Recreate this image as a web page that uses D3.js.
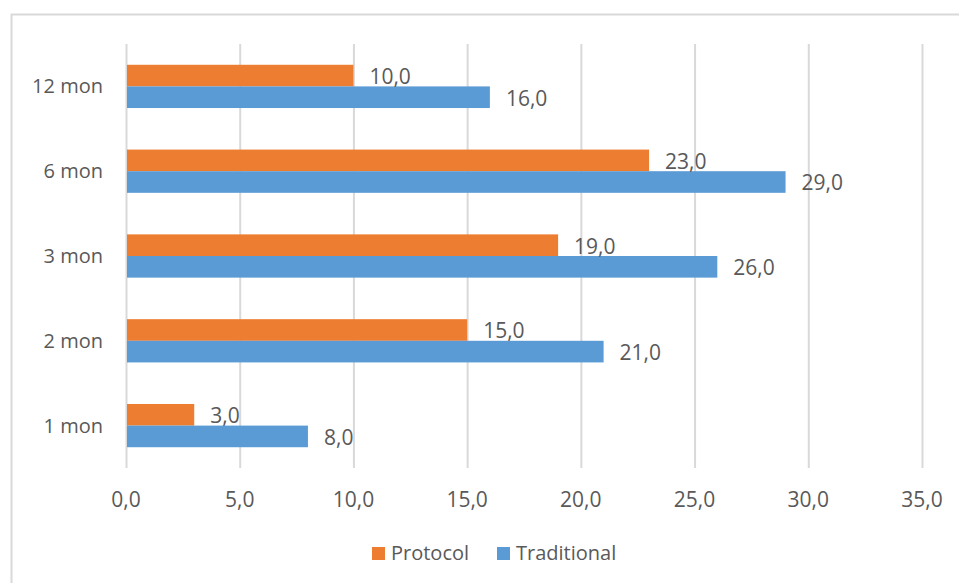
<!DOCTYPE html>
<html>
<head>
<meta charset="utf-8">
<script src="https://cdn.jsdelivr.net/npm/d3@7"></script>
<style>
  body { margin: 0; background: #fff; }
  svg text { font-family: "Open Sans", sans-serif; fill: #595959; }
</style>
</head>
<body>
<div id="chart"></div>
<script>
// chart data
const categories = ["12 mon", "6 mon", "3 mon", "2 mon", "1 mon"];
const seriesNames = ["Protocol", "Traditional"];
const protocol = [10, 23, 19, 15, 3];
const traditional = [16, 29, 26, 21, 8];
const xTicks = [0, 5, 10, 15, 20, 25, 30, 35];
const colors = ["#ED7D31", "#5B9BD5"];

const W = 959, H = 583;
const margin = {top: 44, right: 37, bottom: 115, left: 126},
  width = W - margin.left - margin.right,
  height = H - margin.top - margin.bottom;

const svg = d3.select("#chart")
  .append("svg")
  .attr("width", W)
  .attr("height", H);

// chart border (right/bottom run off the picture)
svg.append("rect")
  .attr("x", 11.5).attr("y", 14.5)
  .attr("width", W + 20).attr("height", H + 20)
  .attr("fill", "none")
  .attr("stroke", "#d9d9d9")
  .attr("stroke-width", 2);

const g = svg.append("g")
  .attr("transform", "translate(" + margin.left + "," + margin.top + ")");

const x = d3.scaleLinear()
  .domain([0, 35])
  .range([0, width]);

const y = d3.scaleBand()
  .domain(categories)
  .range([0, height])
  .paddingInner(0.49)
  .paddingOuter(0.245);

const ySub = d3.scaleBand()
  .domain(seriesNames)
  .range([0, y.bandwidth()]);

// vertical gridlines
g.append("g")
  .selectAll("line")
  .data(xTicks)
  .enter().append("line")
  .attr("x1", d => x(d) + 0.5).attr("x2", d => x(d) + 0.5)
  .attr("y1", 0).attr("y2", height)
  .attr("stroke", "#d9d9d9")
  .attr("stroke-width", 2);

// x tick labels
const fmt = d => d.toFixed(1).replace(".", ",");
g.append("g")
  .selectAll("text")
  .data(xTicks)
  .enter().append("text")
  .attr("x", d => x(d))
  .attr("y", height + 39)
  .attr("text-anchor", "middle")
  .attr("font-size", 21)
  .text(fmt);

// category labels
g.append("g")
  .selectAll("text")
  .data(categories)
  .enter().append("text")
  .attr("x", -23)
  .attr("y", d => y(d) + y.bandwidth() / 2)
  .attr("dy", "0.35em")
  .attr("text-anchor", "end")
  .attr("font-size", 20)
  .text(d => d);

// bars
const rows = [];
categories.forEach((c, i) => {
  rows.push({cat: c, s: seriesNames[0], v: protocol[i], color: colors[0]});
  rows.push({cat: c, s: seriesNames[1], v: traditional[i], color: colors[1]});
});

g.append("g")
  .selectAll("rect")
  .data(rows)
  .enter().append("rect")
  .attr("x", x(0) + 1)
  .attr("y", d => y(d.cat) + ySub(d.s))
  .attr("width", d => x(d.v) - x(0) - 1)
  .attr("height", ySub.bandwidth())
  .attr("fill", d => d.color);

// value labels
g.append("g")
  .selectAll("text")
  .data(rows)
  .enter().append("text")
  .attr("x", d => x(d.v) + 16)
  .attr("y", d => y(d.cat) + ySub(d.s) + ySub.bandwidth() / 2 + 1)
  .attr("dy", "0.35em")
  .attr("font-size", 21)
  .text(d => fmt(d.v));

// legend
const legend = svg.append("g")
  .attr("transform", "translate(0,553)");
const legendX = [372, 497];
seriesNames.forEach((s, i) => {
  legend.append("rect")
    .attr("x", legendX[i]).attr("y", -6)
    .attr("width", 13).attr("height", 13)
    .attr("fill", colors[i]);
  legend.append("text")
    .attr("x", legendX[i] + 19)
    .attr("y", 0)
    .attr("dy", "0.35em")
    .attr("font-size", 20)
    .text(s);
});
</script>
</body>
</html>
